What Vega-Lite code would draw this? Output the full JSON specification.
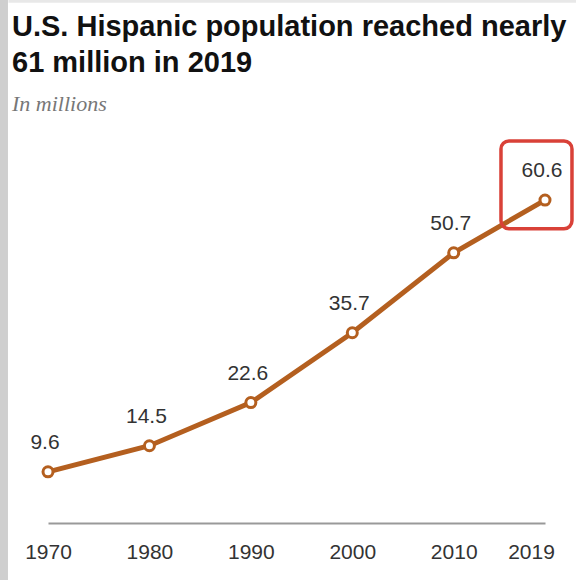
{
  "$schema": "https://vega.github.io/schema/vega-lite/v6.json",
  "autosize": {"type": "none"},
  "width": 497,
  "height": 373,
  "padding": {"left": 48, "top": 150, "right": 31, "bottom": 57},
  "background": "white",
  "title": {
    "text": ["U.S. Hispanic population reached nearly", "61 million in 2019"],
    "subtitle": "In millions",
    "anchor": "start",
    "frame": "group",
    "dx": -36,
    "dy": 152,
    "offset": 31,
    "font": "Liberation Sans",
    "fontSize": 29,
    "fontWeight": "bold",
    "color": "#111111",
    "lineHeight": 36,
    "subtitleFont": "Liberation Serif",
    "subtitleFontStyle": "italic",
    "subtitleFontSize": 22,
    "subtitleColor": "#777777",
    "subtitlePadding": 16
  },
  "config": {"view": {"stroke": null}},
  "data": {
    "values": [
      {"year": 1970, "pop": 9.6},
      {"year": 1980, "pop": 14.5},
      {"year": 1990, "pop": 22.6},
      {"year": 2000, "pop": 35.7},
      {"year": 2010, "pop": 50.7},
      {"year": 2019, "pop": 60.6}
    ]
  },
  "encoding": {
    "x": {
      "field": "year",
      "type": "quantitative",
      "scale": {"domain": [1970, 2019], "nice": false, "zero": false},
      "axis": {
        "values": [1970, 1980, 1990, 2000, 2010, 2019],
        "format": "d",
        "title": null,
        "grid": false,
        "ticks": false,
        "labelFlush": false,
        "labelOffset": {"condition": {"test": "datum.value == 2019", "value": -14}, "value": 0},
        "domainColor": "#999999",
        "domainWidth": 2,
        "labelFont": "Liberation Sans",
        "labelFontSize": 21,
        "labelColor": "#333333",
        "labelPadding": 18
      }
    },
    "y": {
      "field": "pop",
      "type": "quantitative",
      "scale": {"domain": [0, 70], "nice": false},
      "axis": null
    }
  },
  "layer": [
    {
      "mark": {"type": "line", "color": "#b45f1f", "strokeWidth": 5}
    },
    {
      "mark": {"type": "point", "shape": "circle", "filled": true, "fill": "white", "stroke": "#b45f1f", "strokeWidth": 3, "size": 100, "opacity": 1}
    },
    {
      "mark": {"type": "text", "font": "Liberation Sans", "fontSize": 21, "color": "#333333", "dy": -29, "dx": -3, "baseline": "middle"},
      "encoding": {
        "text": {"field": "pop", "type": "quantitative", "format": ".1f"}
      }
    },
    {
      "data": {"values": [{"x": 2014.66, "x2": 2021.66, "y": 71.7, "y2": 55.2}]},
      "mark": {"type": "rect", "fillOpacity": 0, "stroke": "#d94138", "strokeWidth": 3.5, "cornerRadius": 8},
      "encoding": {
        "x": {"field": "x", "type": "quantitative"},
        "x2": {"field": "x2"},
        "y": {"field": "y", "type": "quantitative"},
        "y2": {"field": "y2"}
      }
    },
    {
      "data": {"values": [{"x": 1965.66, "y": 98.5, "y2": -11}]},
      "mark": {"type": "rule", "color": "#cfcfcf", "strokeWidth": 8},
      "encoding": {
        "x": {"field": "x", "type": "quantitative"},
        "y": {"field": "y", "type": "quantitative"},
        "y2": {"field": "y2"}
      }
    },
    {
      "data": {"values": [{"x": 1966.1, "x2": 2022.2, "y": 97.9}]},
      "mark": {"type": "rule", "color": "#e8e8e8", "strokeWidth": 3},
      "encoding": {
        "x": {"field": "x", "type": "quantitative"},
        "x2": {"field": "x2"},
        "y": {"field": "y", "type": "quantitative"}
      }
    }
  ]
}
